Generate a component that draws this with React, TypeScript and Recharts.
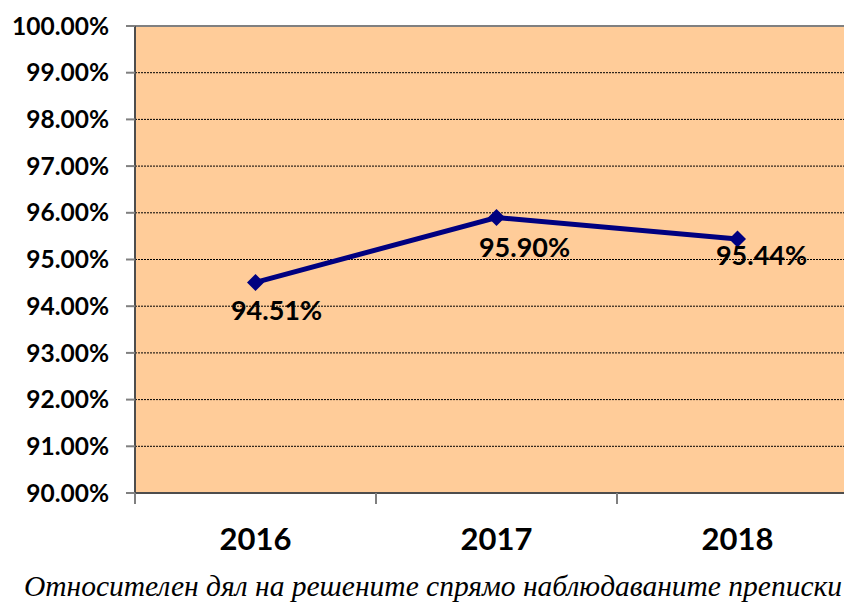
import React from 'react';
import { LineChart, Line, XAxis, YAxis, CartesianGrid, ReferenceLine } from 'recharts';

const categories = ['2016', '2017', '2018'];
const shareValues = [94.51, 95.9, 95.44];
const yTicks = [90, 91, 92, 93, 94, 95, 96, 97, 98, 99, 100];
const caption = 'Относителен дял на решените спрямо наблюдаваните преписки';

const data = categories.map((c, i) => ({ year: c, share: shareValues[i] }));

const CHART_W = 870;
const CHART_H = 603;
const M_TOP = 26;
const M_RIGHT = 12;
const Y_W = 135;
const X_H = 110;
const PLOT_W = CHART_W - M_RIGHT - Y_W;
const HALF_BAND = PLOT_W / categories.length / 2;
const X_TICK_GAP = 34;

const FONT = 'Lato, "Open Sans", sans-serif';

const LABEL_DX = [21, 28, 24];
const LABEL_DY = [38, 40, 26];

const XTick = (props: any) => {
  const { x, y, payload, index } = props;
  const top = y - X_TICK_GAP;
  const isLast = index === categories.length - 1;
  return (
    <g>
      <line x1={x - HALF_BAND} x2={x - HALF_BAND} y1={top} y2={top + 11} stroke="#808080" strokeWidth={2} />
      {isLast && (
        <line x1={x + HALF_BAND} x2={x + HALF_BAND} y1={top} y2={top + 11} stroke="#808080" strokeWidth={2} />
      )}
      <text x={x} y={y + 23} textAnchor="middle" fontFamily={FONT} fontWeight={700} fontSize={31} fill="#000">
        {payload.value}
      </text>
    </g>
  );
};

const Diamond = (props: any) => {
  const { cx, cy } = props;
  if (cx == null || cy == null) return null;
  const r = 8.5;
  return <polygon points={`${cx},${cy - r} ${cx + r},${cy} ${cx},${cy + r} ${cx - r},${cy}`} fill="#000080" />;
};

const ValueLabel = (props: any) => {
  const { x, y, value, index } = props;
  return (
    <text
      x={x + LABEL_DX[index]}
      y={y + LABEL_DY[index]}
      textAnchor="middle"
      fontFamily={FONT}
      fontWeight={700}
      fontSize={27}
      fill="#000"
    >
      {`${Number(value).toFixed(2)}%`}
    </text>
  );
};

export default function App() {
  return (
    <div style={{ position: 'absolute', left: 0, top: 0, width: 844, height: 603, overflow: 'hidden', background: '#fff' }}>
      <LineChart width={CHART_W} height={CHART_H} data={data} margin={{ top: M_TOP, right: M_RIGHT, left: 0, bottom: 0 }}>
        <CartesianGrid vertical={false} stroke="#000" strokeDasharray="2 1" fill="#FFCC99" fillOpacity={1} />
        <ReferenceLine y={100} stroke="#808080" strokeWidth={2} />
        <XAxis
          dataKey="year"
          height={X_H}
          padding={{ left: HALF_BAND, right: HALF_BAND }}
          tickLine={false}
          tickSize={0}
          tickMargin={X_TICK_GAP}
          axisLine={{ stroke: '#4d4d4d', strokeWidth: 2 }}
          tick={<XTick />}
          interval={0}
        />
        <YAxis
          width={Y_W}
          domain={[90, 100]}
          ticks={yTicks}
          interval={0}
          tickSize={9}
          tickMargin={17}
          tickLine={{ stroke: '#808080', strokeWidth: 2 }}
          axisLine={{ stroke: '#4d4d4d', strokeWidth: 2 }}
          tickFormatter={(v: number) => `${v.toFixed(2)}%`}
          tick={{ fontFamily: FONT, fontWeight: 700, fontSize: 24.5, fill: '#000' }}
        />
        <Line
          type="linear"
          dataKey="share"
          stroke="#000080"
          strokeWidth={5}
          dot={<Diamond />}
          activeDot={false}
          label={<ValueLabel />}
          isAnimationActive={false}
        />
      </LineChart>
      <div
        style={{
          position: 'absolute',
          left: 0,
          top: 572,
          width: 866,
          textAlign: 'center',
          whiteSpace: 'nowrap',
          fontFamily: '"Liberation Serif", "Times New Roman", serif',
          fontStyle: 'italic',
          fontSize: 29.5,
          lineHeight: '29px',
          color: '#000',
        }}
      >
        {caption}
      </div>
    </div>
  );
}
